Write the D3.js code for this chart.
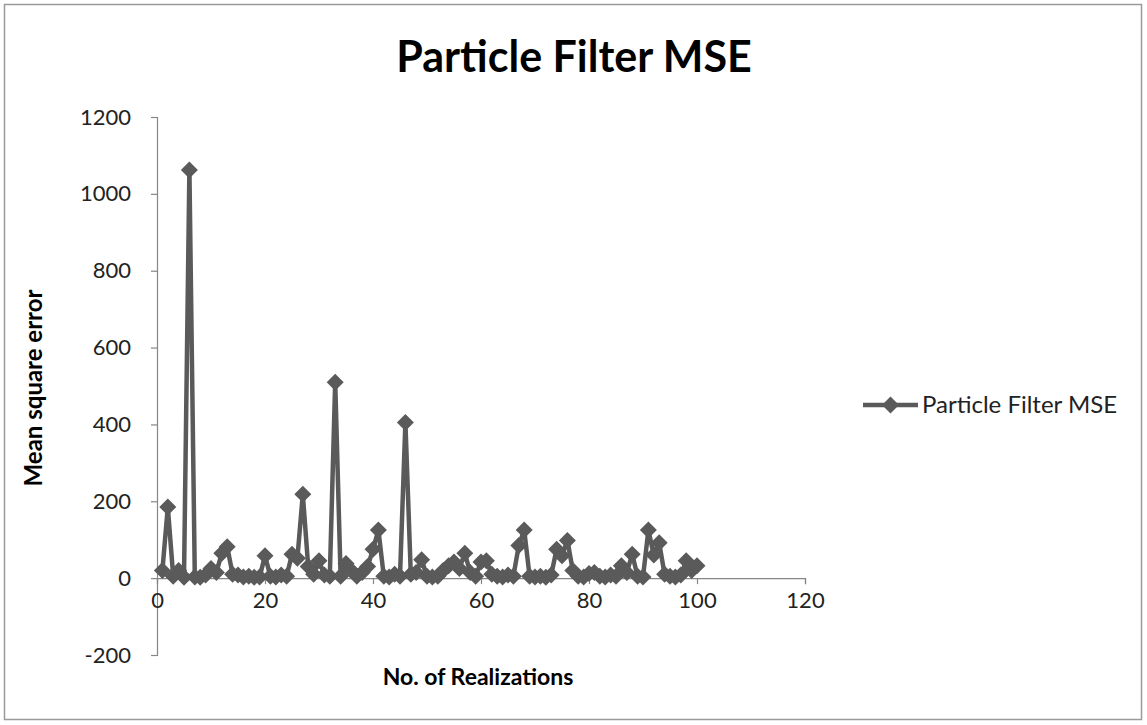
<!DOCTYPE html>
<html>
<head>
<meta charset="utf-8">
<script src="https://cdn.jsdelivr.net/npm/d3@7"></script>
<style>
  html, body { margin: 0; padding: 0; background: #fff; }
  svg { display: block; }
</style>
</head>
<body>
<svg id="chart" width="1147" height="725"></svg>
<script>
// Realization index 1..100 and the mean square error of each run
const realizations = d3.range(1, 101);
const mseValues = [
  20, 185, 5, 20, 2, 1062, 3, 2, 8, 25,
  15, 65, 82, 10, 8, 3, 5, 2, 3, 58,
  5, 3, 8, 5, 62, 52, 218, 30, 10, 45,
  8, 5, 510, 5, 38, 20, 5, 15, 30, 75,
  125, 5, 3, 10, 5, 405, 10, 15, 48, 5,
  3, 5, 20, 32, 42, 25, 65, 15, 5, 42,
  45, 10, 5, 3, 8, 5, 85, 125, 5, 3,
  5, 2, 8, 75, 58, 98, 20, 5, 3, 12,
  15, 5, 3, 8, 5, 32, 15, 62, 5, 3,
  125, 60, 92, 10, 5, 3, 8, 45, 20, 32
];
const xTicks = [0, 20, 40, 60, 80, 100, 120];
const yTicks = [-200, 0, 200, 400, 600, 800, 1000, 1200];
const seriesName = "Particle Filter MSE";

const svg = d3.select("#chart");
const font = "Lato, 'Open Sans', sans-serif";
const axisColor = "#868686";
const lineColor = "#5a5a5a";

// outer chart frame
svg.append("rect")
  .attr("x", 4.5).attr("y", 4.5)
  .attr("width", 1137).attr("height", 715)
  .attr("fill", "#fff")
  .attr("stroke", "#9a9a9a").attr("stroke-width", 1.5);

const x = d3.scaleLinear().domain([0, 120]).range([157, 805]);
const y = d3.scaleLinear().domain([-200, 1200]).range([655, 117]);

// title
svg.append("text")
  .attr("x", 574).attr("y", 72)
  .attr("text-anchor", "middle")
  .attr("font-family", font).attr("font-weight", "bold")
  .attr("font-size", 43).attr("fill", "#000")
  .text("Particle Filter MSE");

// y axis
const yAxis = svg.append("g")
  .attr("transform", `translate(${x(0)},0)`)
  .call(d3.axisLeft(y).tickValues(yTicks).tickFormat(d => String(d))
    .tickSize(6).tickPadding(20));
// x axis at zero
const xAxis = svg.append("g")
  .attr("transform", `translate(0,${y(0)})`)
  .call(d3.axisBottom(x).tickValues(xTicks).tickFormat(d => String(d))
    .tickSize(6).tickPadding(22));

[yAxis, xAxis].forEach(g => {
  g.select(".domain").attr("stroke", axisColor).attr("stroke-width", 1.2);
  g.selectAll(".tick line").attr("stroke", axisColor).attr("stroke-width", 1.2);
  g.selectAll(".tick text")
    .attr("font-family", font).attr("font-size", 22).attr("fill", "#222");
});
xAxis.selectAll(".tick text").attr("dy", "0.1em");

// axis titles
svg.append("text")
  .attr("x", 478).attr("y", 685)
  .attr("text-anchor", "middle")
  .attr("font-family", font).attr("font-weight", "bold")
  .attr("font-size", 23).attr("fill", "#000")
  .text("No. of Realizations");

svg.append("text")
  .attr("transform", "translate(42,388) rotate(-90)")
  .attr("text-anchor", "middle")
  .attr("font-family", font).attr("font-weight", "bold")
  .attr("font-size", 24).attr("fill", "#000")
  .text("Mean square error");

// series line
const data = realizations.map((r, i) => ({ r, v: mseValues[i] }));
const line = d3.line().x(d => x(d.r)).y(d => y(d.v));
svg.append("path")
  .datum(data)
  .attr("d", line)
  .attr("fill", "none")
  .attr("stroke", lineColor)
  .attr("stroke-width", 4.5)
  .attr("stroke-linejoin", "round");

// diamond markers
const diamond = s => `M0,${-s}L${s},0L0,${s}L${-s},0Z`;
svg.append("g").selectAll("path")
  .data(data)
  .join("path")
  .attr("transform", d => `translate(${x(d.r)},${y(d.v)})`)
  .attr("d", diamond(8.5))
  .attr("fill", lineColor);

// legend
const lg = svg.append("g").attr("transform", "translate(863,405)");
lg.append("line").attr("x1", 0).attr("x2", 55).attr("y1", 0).attr("y2", 0)
  .attr("stroke", lineColor).attr("stroke-width", 4.5);
lg.append("path").attr("transform", "translate(27.5,0)").attr("d", diamond(8.5)).attr("fill", lineColor);
lg.append("text")
  .attr("x", 59).attr("y", 8)
  .attr("font-family", font).attr("font-size", 24).attr("fill", "#222")
  .text(seriesName);
</script>
</body>
</html>
